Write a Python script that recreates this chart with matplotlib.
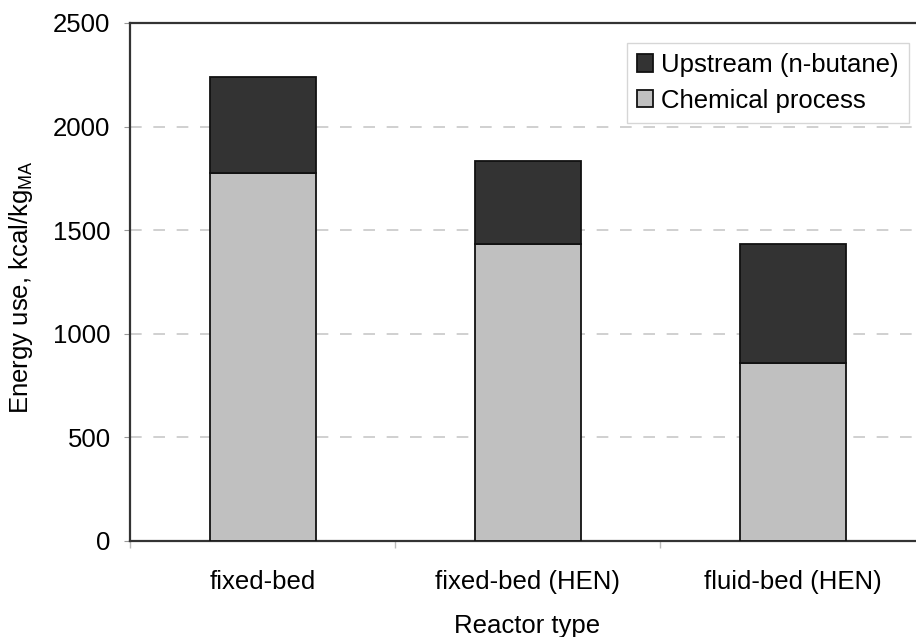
import matplotlib
matplotlib.use("Agg")
import matplotlib.pyplot as plt
import numpy as np

categories = ["fixed-bed", "fixed-bed (HEN)", "fluid-bed (HEN)"]
chemical = [1775, 1432, 860]
upstream_total = [2237, 1835, 1433]
upstream = [t - c for t, c in zip(upstream_total, chemical)]
yticks = [0, 500, 1000, 1500, 2000, 2500]

plt.rcParams['font.family'] = ['Liberation Sans', 'DejaVu Sans']
plt.rcParams['mathtext.default'] = 'regular'

FS = 18.5

fig = plt.figure(figsize=(9.16, 6.37), dpi=100)
ax = fig.add_axes([130/916, (637-541)/637, 795/916, 518/637])

x = np.arange(len(categories))
ax.bar(x, chemical, width=0.4, color='#c0c0c0', edgecolor='#111111', linewidth=1.3,
       label='Chemical process', zorder=3)
ax.bar(x, upstream, width=0.4, bottom=chemical, color='#333333', edgecolor='#111111',
       linewidth=1.3, label='Upstream (n-butane)', zorder=3)

ax.set_xlim(-0.5, 2.5)
ax.set_ylim(0, 2500)
ax.set_yticks(yticks)
ax.set_yticklabels([str(v) for v in yticks], fontsize=FS)
for v in yticks[1:-1]:
    ax.axhline(v, color='#c8c8c8', linewidth=1.2, dashes=(7, 7), zorder=1)

ax.set_xticks(x)
ax.set_xticklabels(categories, fontsize=FS)
ax.set_xticks([-0.5, 0.5, 1.5, 2.5], minor=True)
ax.tick_params(axis='x', which='major', length=0, pad=21)
ax.tick_params(axis='x', which='minor', length=5, color='#bbbbbb', width=1)
ax.tick_params(axis='y', length=4, color='#999999', pad=10)

for s in ['left', 'top', 'bottom']:
    ax.spines[s].set_color('#333333')
    ax.spines[s].set_linewidth(1.6)
ax.spines['right'].set_visible(False)

ax.set_xlabel('Reactor type', fontsize=FS, labelpad=14)
ax.set_ylabel('Energy use, kcal/kg$_{MA}$', fontsize=FS)
ax.yaxis.set_label_coords(-0.12, 0.49)

handles, labels = ax.get_legend_handles_labels()
leg = ax.legend(handles[::-1], labels[::-1], loc='upper right', bbox_to_anchor=(0.98, 0.962),
                fontsize=FS, frameon=True, fancybox=False, handlelength=0.65, handleheight=0.65,
                handletextpad=0.3, borderpad=0.4, labelspacing=0.45, borderaxespad=0)
leg.get_frame().set_edgecolor('#cccccc')
leg.get_frame().set_linewidth(1.0)

fig.savefig('out.png', dpi=100)
